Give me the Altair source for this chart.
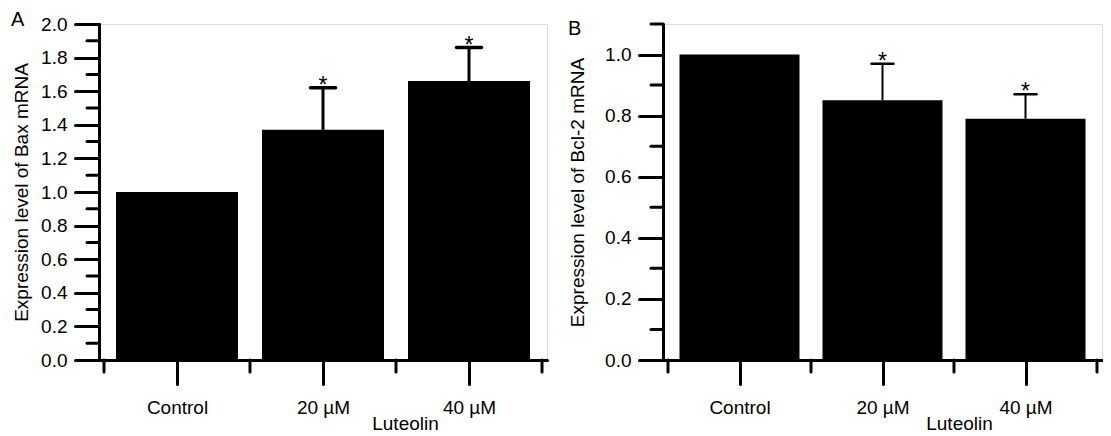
import json
import altair as alt
import pandas as pd

# ---------------- data ----------------
categories = ["Control", "20 µM", "40 µM"]
significance = ["", "*", "*"]

bax_mean = [1.00, 1.37, 1.66]
bax_err = [0.00, 0.25, 0.20]

bcl2_mean = [1.00, 0.85, 0.79]
bcl2_err = [0.00, 0.12, 0.08]

bax_major = [0.0, 0.2, 0.4, 0.6, 0.8, 1.0, 1.2, 1.4, 1.6, 1.8, 2.0]
bax_minor = [0.1, 0.3, 0.5, 0.7, 0.9, 1.1, 1.3, 1.5, 1.7, 1.9]
bcl2_major = [0.0, 0.2, 0.4, 0.6, 0.8, 1.0]
bcl2_minor = [0.1, 0.3, 0.5, 0.7, 0.9, 1.1]

FONT = "Liberation Sans"
FS = 19


def panel(means, errs, major, minor, ymax, width, height, ytitle, letter,
          letter_xy, ytitle_x, xtitle_xy, stem_w, cap_len, bar_w):
    n = len(categories)
    df = pd.DataFrame({
        "cat": categories,
        "pos": [i + 0.5 for i in range(n)],
        "mean": means,
        "err": errs,
        "top": [m + e for m, e in zip(means, errs)],
        "sig": significance,
    })
    bounds_df = pd.DataFrame({"b": list(range(n + 1))})
    minor_df = pd.DataFrame({"v": minor})
    letter_df = pd.DataFrame({"t": [letter]})

    label_expr = json.dumps(categories) + "[floor(datum.value)]"
    xscale = alt.Scale(domain=[0, n], nice=False, zero=False)
    yscale = alt.Scale(domain=[0, ymax], nice=False)
    xaxis = alt.Axis(
        values=[i + 0.5 for i in range(n)], labelExpr=label_expr,
        tickSize=24, tickWidth=3, tickColor="black", tickCap="round",
        domainWidth=3, domainColor="black", domainCap="round",
        labelFont=FONT, labelFontSize=FS, labelColor="black", labelPadding=14,
        labelAngle=0, grid=False,
        title="Luteolin", titleFont=FONT, titleFontSize=FS, titleFontWeight="normal",
        titleColor="black", titleX=xtitle_xy[0], titleY=xtitle_xy[1],
        titleBaseline="alphabetic", titleAlign="center",
    )
    yaxis = alt.Axis(
        values=major, format=".1f",
        tickSize=24, tickWidth=3, tickColor="black", tickCap="round",
        domainWidth=3, domainColor="black", domainCap="round",
        labelFont=FONT, labelFontSize=FS, labelColor="black", labelPadding=8,
        grid=False,
        title=ytitle, titleFont=FONT, titleFontSize=FS, titleFontWeight="normal",
        titleColor="black", titleX=ytitle_x, titleBaseline="middle",
    )

    bars = alt.Chart(df).mark_bar(size=bar_w, color="black", orient="vertical").encode(
        x=alt.X("pos:Q", scale=xscale, axis=xaxis),
        y=alt.Y("mean:Q", scale=yscale, axis=yaxis),
    )
    stems = alt.Chart(df).transform_filter("datum.err > 0").mark_rule(
        color="black", strokeWidth=stem_w
    ).encode(
        x=alt.X("pos:Q", scale=xscale, axis=xaxis),
        y=alt.Y("mean:Q", scale=yscale, axis=yaxis),
        y2="top:Q",
    )
    caps = alt.Chart(df).transform_filter("datum.err > 0").mark_rule(
        color="black", strokeWidth=stem_w + 0.5, strokeCap="round",
        xOffset=-cap_len / 2, x2Offset=cap_len / 2,
    ).encode(
        x=alt.X("pos:Q", scale=xscale, axis=xaxis),
        x2="pos:Q",
        y=alt.Y("top:Q", scale=yscale, axis=yaxis),
    )
    stars = alt.Chart(df).mark_text(
        font=FONT, fontSize=23, color="black", baseline="alphabetic", dy=5
    ).encode(
        x=alt.X("pos:Q", scale=xscale, axis=xaxis),
        y=alt.Y("top:Q", scale=yscale, axis=yaxis),
        text="sig:N",
    )
    bticks = alt.Chart(bounds_df).mark_rule(
        color="black", strokeWidth=3, strokeCap="round"
    ).encode(
        x=alt.X("b:Q", scale=xscale, axis=xaxis),
        y=alt.value(height), y2=alt.value(height + 12),
    )
    mticks = alt.Chart(minor_df).mark_rule(
        color="black", strokeWidth=3, strokeCap="round"
    ).encode(
        y=alt.Y("v:Q", scale=yscale, axis=yaxis),
        x=alt.value(-12), x2=alt.value(0),
    )
    lab = alt.Chart(letter_df).mark_text(
        font=FONT, fontSize=20, color="black", align="left", baseline="middle"
    ).encode(
        x=alt.value(letter_xy[0]), y=alt.value(letter_xy[1]), text="t:N"
    )
    return alt.layer(bars, stems, caps, stars, bticks, mticks, lab).properties(
        width=width, height=height
    )


chart_a = panel(bax_mean, bax_err, bax_major, bax_minor, 2.0, 448, 336,
                "Expression level of Bax mRNA", "A", (-88, -4), -78, (306, 69), 3, 25, 122)
chart_b = panel(bcl2_mean, bcl2_err, bcl2_major, bcl2_minor, 1.1, 439, 336,
                "Expression level of Bcl-2 mRNA", "B", (-95, 5), -86, (296, 69), 2, 22, 120)

chart = alt.hconcat(chart_a, chart_b, spacing=116, bounds="flush").properties(
    padding={"left": 2, "top": 1, "right": 0, "bottom": 0}
).configure_view(stroke=None).configure(background="white")

chart.save("out.html", embed_options={"renderer": "svg", "actions": False})
